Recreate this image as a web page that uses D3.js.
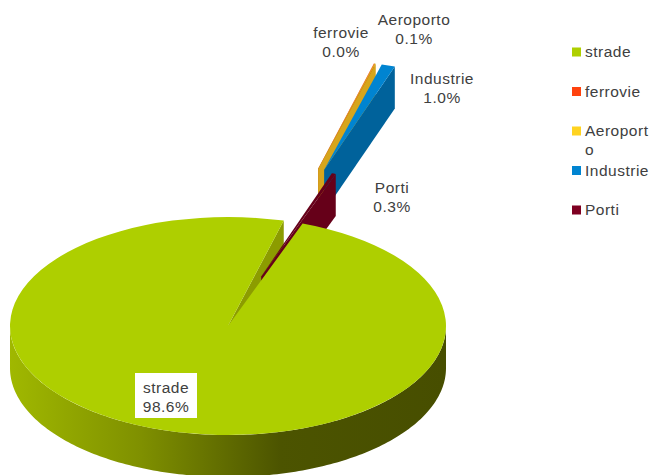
<!DOCTYPE html>
<html>
<head>
<meta charset="utf-8">
<script src="https://cdn.jsdelivr.net/npm/d3@7"></script>
<style>
  html, body { margin: 0; padding: 0; background: #fff; }
  text { font-family: "Liberation Sans", Arial, sans-serif; font-size: 15.5px; letter-spacing: 0.5px; fill: #404040; }
</style>
</head>
<body>
<svg id="chart" width="650" height="475"></svg>
<script>
// Share of transport by mode (percent)
const categories = ["strade", "ferrovie", "Aeroporto", "Industrie", "Porti"];
const shares = [98.56, 0.04, 0.1, 1.0, 0.3];

const legendColors = ["#AECF00", "#FF420E", "#FFD320", "#0084D1", "#7E0021"];
const topColors = ["#AECF00", "#FF420E", "#DDA91E", "#0084D1", "#660019"];
const wallColors = ["#8C9C00", "#C8330A", "#D6A51C", "#00629B", "#660019"];

// How far each slice is pulled from the centre (fraction of the radius) and in which direction (degrees)
const explode = [0, 1.5, 1.5, 1.5, 0.48];
const explodeBearing = [0, 16, 16, 17.1, 18.5];
// Label centre relative to the pie centre
const labelAnchors = [[-62, 67], [113, -288], [186, -301], [214, -242], [164, -133]];

const W = 650, H = 475;
const cx = 228, cy = 326, radius = 218, tilt = 0.5, depth = 42;
const toRad = d3.scaleLinear().domain([0, 360]).range([0, 2 * Math.PI]);

const svg = d3.select("#chart");

const grad = svg.append("defs").append("linearGradient")
  .attr("id", "roadWall")
  .attr("gradientUnits", "userSpaceOnUse")
  .attr("x1", cx - radius).attr("x2", cx + radius).attr("y1", 0).attr("y2", 0);
[[0, "#A0B800"], [0.3, "#7F9000"], [0.62, "#4C5400"], [1, "#474E00"]].forEach(([o, c]) =>
  grad.append("stop").attr("offset", o).attr("stop-color", c));

const startAngle = toRad(20);
const slices = d3.pie().sort(null).value(d => d)
  .startAngle(startAngle).endAngle(startAngle + 2 * Math.PI)(shares)
  .map((s, i) => {
    const bearing = toRad(explodeBearing[i]);
    const dist = explode[i] * radius;
    return {
      ...s, i,
      dx: dist * Math.sin(bearing),
      dy: -dist * Math.cos(bearing) * tilt
    };
  });

const arcGen = d3.arc().innerRadius(0).outerRadius(radius);
const line = d3.line();
const rim = (s, a, down = 0) => [
  cx + s.dx + radius * Math.sin(a),
  cy + s.dy - radius * tilt * Math.cos(a) + down
];

// Flat wall along the clockwise cut edge of a slice
function drawCutWall(s) {
  const apex = [cx + s.dx, cy + s.dy];
  const outer = rim(s, s.endAngle);
  svg.append("path")
    .attr("d", line([apex, outer, [outer[0], outer[1] + depth], [apex[0], apex[1] + depth]]) + "Z")
    .attr("fill", wallColors[s.i]);
}

function drawTop(s) {
  svg.append("path")
    .attr("transform", `translate(${cx + s.dx},${cy + s.dy}) scale(1,${tilt})`)
    .attr("d", arcGen(s))
    .attr("fill", topColors[s.i]);
}

// Curved front wall of the large slice, between the two ends of the ellipse
function drawFrontWall(s) {
  const angles = d3.range(90, 270.5, 1).map(toRad);
  const upper = angles.map(a => rim(s, a));
  const lower = angles.map(a => rim(s, a, depth)).reverse();
  svg.append("path")
    .attr("d", line(upper.concat(lower)) + "Z")
    .attr("fill", "url(#roadWall)");
}

// Painted back to front
[1, 2, 3].forEach(i => { drawCutWall(slices[i]); drawTop(slices[i]); });
drawCutWall(slices[0]);
drawCutWall(slices[4]);
drawTop(slices[4]);
drawFrontWall(slices[0]);
drawTop(slices[0]);

// Slice labels
const fmt = d3.format(".1f");
const lineGap = 19;
categories.forEach((name, i) => {
  const x = cx + labelAnchors[i][0], y = cy + labelAnchors[i][1];
  if (i === 0) {
    svg.append("rect").attr("x", x - 31).attr("y", y - 20)
      .attr("width", 62).attr("height", 45).attr("fill", "#fff");
  }
  const t = svg.append("text").attr("text-anchor", "middle");
  t.append("tspan").attr("x", x).attr("y", y).text(name);
  t.append("tspan").attr("x", x).attr("y", y + lineGap).text(fmt(shares[i]) + "%");
});

// Legend, with names wrapped to the width of the legend column
const legendY = d3.scalePoint().domain(categories).range([52, 210]);
const legendColumnWidth = 65;
categories.forEach((name, i) => {
  const y = legendY(name);
  svg.append("rect").attr("x", 572).attr("y", y - 4.5)
    .attr("width", 9).attr("height", 9).attr("fill", legendColors[i]);
  const t = svg.append("text");
  const first = t.append("tspan").attr("x", 585).attr("y", y + 5).text(name);
  let cut = name.length;
  while (first.node().getComputedTextLength() > legendColumnWidth + 1 && cut > 1) {
    cut -= 1;
    first.text(name.slice(0, cut));
  }
  if (cut < name.length) {
    t.append("tspan").attr("x", 585).attr("y", y + 24).text(name.slice(cut));
  }
});
</script>
</body>
</html>
